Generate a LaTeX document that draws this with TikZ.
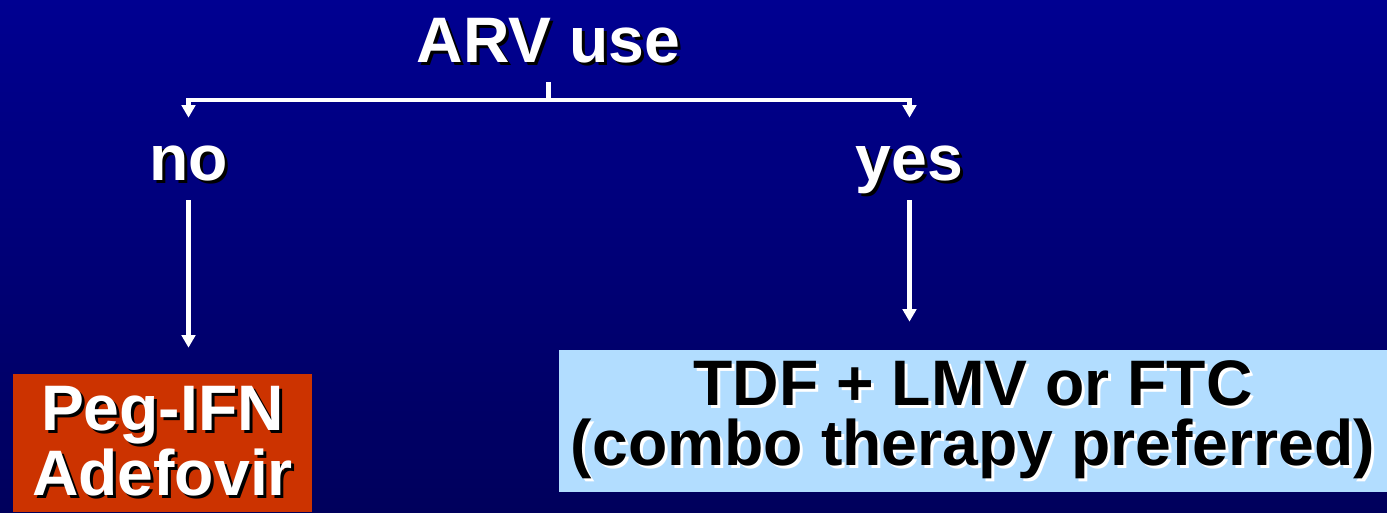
\documentclass[tikz,border=0pt]{standalone}
\usepackage{fontspec}
\setmainfont{Liberation Sans}
\usetikzlibrary{calc, arrows.meta}

\definecolor{slidetop}{RGB}{0,0,145}
\definecolor{slidebottom}{RGB}{0,0,92}
\definecolor{pegred}{RGB}{204,51,0}
\definecolor{tdfblue}{RGB}{178,221,255}

% text with a drop shadow (shadow colour, text)
\newcommand{\shtext}[2]{\leavevmode\rlap{\kern0.06cm\raisebox{-0.06cm}{\textcolor{#1}{#2}}}#2}

\begin{document}
\begin{tikzpicture}[
        bigtext/.style={font=\fontsize{36.6}{34}\selectfont\bfseries},
        choice/.style={bigtext, text=white, inner sep=0pt, text height=1.24cm, text depth=0.40cm},
        drug/.style={bigtext, rectangle, inner sep=0pt, align=center},
        wire/.style={draw=white, line width=0.09cm},
        >={Triangle[width=0.27cm, length=0.25cm]}
    ]

        %% Background
        \useasboundingbox (0,0) rectangle (27.74,-10.24);
        \shade [top color=slidetop, bottom color=slidebottom] (0,0) rectangle (27.74,-10.24);

        %% Question and answers
        \node (arv) [choice, anchor=base] at (10.97,-1.24) {\shtext{black}{ARV use}};
        \node (no) [choice, anchor=base] at (3.77,-3.60) {\shtext{black}{no}};
        \node (yes) [choice, anchor=base] at (18.19,-3.60) {\shtext{black}{yes}};

        %% Treatments
        \node (peg) [drug, fill=pegred, text=white, minimum width=5.98cm, minimum height=2.76cm] at (3.25,-8.86) {\shtext{black}{Peg-IFN}\\ \shtext{black}{Adefovir}};
        \node (tdf) [drug, fill=tdfblue, text=black, minimum width=16.56cm, minimum height=2.84cm] at (19.46,-8.42) {\shtext{white}{TDF + LMV or FTC}\\ \shtext{white}{(combo therapy preferred)}};

        %% Arrows
        \coordinate (split) at (arv.south |- 0,-2.0);
        \draw [wire] (arv.south) -- (split);
        \draw [wire, ->] (split) -| (no.north);
        \draw [wire, ->] (split) -| (yes.north);
        \draw [wire, ->, shorten >=0.52cm] (no.south) -- (no.south |- peg.north);
        \draw [wire, ->, shorten >=0.56cm] (yes.south) -- (yes.south |- tdf.north);

    \end{tikzpicture}
\end{document}
